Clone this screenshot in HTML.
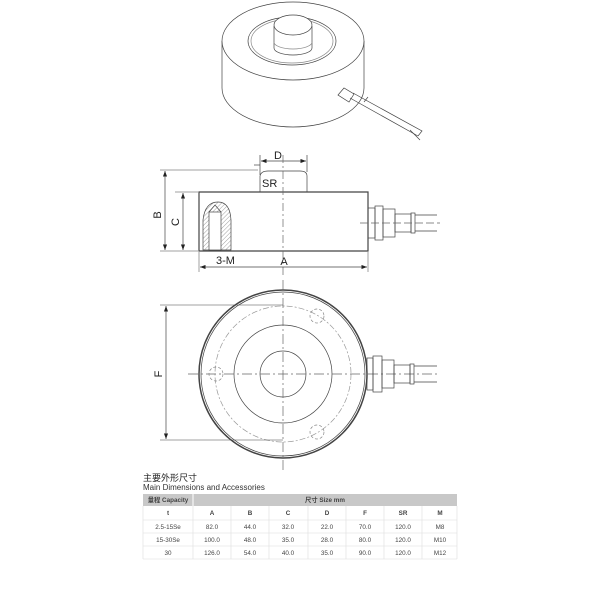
<!DOCTYPE html>
<html><head><meta charset="utf-8"><style>
body{margin:0;background:#fff;width:600px;height:600px;overflow:hidden}
svg{display:block}
</style></head><body>
<svg width="600" height="600" viewBox="0 0 600 600" xmlns="http://www.w3.org/2000/svg" font-family="Liberation Sans, Noto Sans CJK SC, sans-serif">
<defs>
<marker id="ar" markerWidth="8" markerHeight="6" refX="8" refY="3" orient="auto-start-reverse"><path d="M0,0 L8,3 L0,6z" fill="#222"/></marker>
<pattern id="hatch" width="3" height="3" patternUnits="userSpaceOnUse" patternTransform="rotate(45)"><line x1="0" y1="0" x2="0" y2="3" stroke="#777" stroke-width="0.7"/></pattern>
</defs>
<g fill="none" stroke="#444" stroke-width="0.7">
<!-- 3D view -->
<path d="M222,41 L222,88 A71,39 0 0 0 364,88 L364,41"/>
<ellipse cx="293" cy="41" rx="71" ry="39" fill="#fff"/>
<ellipse cx="292" cy="41" rx="44" ry="24"/>
<ellipse cx="292" cy="41" rx="41" ry="22" stroke="#888"/>
<path d="M274,26 L274,48 A19,7 0 0 0 312,48 L312,26"/>
<path d="M274,42 A19,7 0 0 0 312,42" stroke="#888"/>
<ellipse cx="293" cy="25" rx="19" ry="10" fill="#fff"/>
<path d="M338,95 L344,88 L354,94 L349,102 Z" fill="#fff"/>
<path d="M350,98 L418,136 M353,93 L422,131 L418,136"/>
<path d="M364,102 L368,97"/>
<path d="M410,130 L420,140"/>
<!-- side view -->
<line x1="254" y1="165" x2="260" y2="165"/>
<line x1="260" y1="155" x2="260" y2="175"/>
<line x1="307" y1="155" x2="307" y2="172"/>
<line x1="261" y1="161" x2="306" y2="161" marker-start="url(#ar)" marker-end="url(#ar)"/>
<path d="M260,192 L260,176 Q261,171 268,171 L300,171 Q307,171 307,176 L307,192"/>
<path d="M199,192 L368,192 L368,251 L245,251 L199,251 Z" stroke-width="1.2"/>
<path d="M203,250 L203,220 Q205,202 218,202 Q230,202 231,220 L231,250 Z" fill="url(#hatch)"/>
<rect x="209" y="212" width="12" height="38" fill="#fff"/>
<path d="M209,212 L215,205 L221,212"/>
<line x1="283" y1="155" x2="283" y2="275" stroke-dasharray="8,3,2,3" stroke="#666"/>
<line x1="160" y1="170" x2="258" y2="170" stroke-width="0.5"/>
<line x1="175" y1="192" x2="198" y2="192" stroke-width="0.5"/>
<line x1="160" y1="251" x2="198" y2="251" stroke-width="0.5"/>
<line x1="165" y1="171" x2="165" y2="250" marker-start="url(#ar)" marker-end="url(#ar)"/>
<line x1="183" y1="193" x2="183" y2="250" marker-start="url(#ar)" marker-end="url(#ar)"/>
<line x1="199" y1="252" x2="199" y2="272" stroke-width="0.5"/>
<line x1="368" y1="252" x2="368" y2="272" stroke-width="0.5"/>
<line x1="200" y1="267" x2="367" y2="267" marker-start="url(#ar)" marker-end="url(#ar)"/>
<rect x="368" y="208" width="7" height="30"/>
<rect x="375" y="206" width="8" height="34"/>
<rect x="383" y="209" width="12" height="28"/>
<rect x="395" y="214" width="16" height="18"/>
<rect x="411" y="213" width="4" height="20"/>
<path d="M415,215 L437,215 M415,231 L437,231"/>
<line x1="360" y1="223" x2="440" y2="223" stroke-dasharray="8,3" stroke="#666"/>
<!-- top view -->
<circle cx="283" cy="374" r="84" stroke-width="1.5"/>
<circle cx="283" cy="374" r="82"/>
<circle cx="283" cy="374" r="68" stroke="#999" stroke-dasharray="6,2,2,2"/>
<circle cx="283" cy="374" r="49"/>
<circle cx="283" cy="374" r="23"/>
<line x1="283" y1="280" x2="283" y2="470" stroke-dasharray="10,3,2,3" stroke="#666"/>
<line x1="188" y1="374" x2="440" y2="374" stroke-dasharray="10,3,2,3" stroke="#666"/>
<circle cx="317" cy="316" r="7" stroke-dasharray="3,2" stroke="#888"/>
<circle cx="216" cy="374" r="7" stroke-dasharray="3,2" stroke="#888"/>
<circle cx="317" cy="432" r="7" stroke-dasharray="3,2" stroke="#888"/>
<line x1="160" y1="305" x2="283" y2="305" stroke-width="0.5"/>
<line x1="160" y1="440" x2="283" y2="440" stroke-width="0.5"/>
<line x1="166" y1="306" x2="166" y2="439" marker-start="url(#ar)" marker-end="url(#ar)"/>
<rect x="367" y="358" width="6" height="32"/>
<rect x="373" y="356" width="9" height="36"/>
<rect x="382" y="360" width="12" height="28"/>
<rect x="394" y="365" width="16" height="18"/>
<rect x="410" y="364" width="4" height="20"/>
<path d="M414,366 L437,366 M414,382 L437,382"/>
</g>
<g font-size="11" fill="#222">
<text x="278" y="159" text-anchor="middle">D</text>
<text x="262" y="187">SR</text>
<text x="161" y="215" transform="rotate(-90 161 215)" text-anchor="middle">B</text>
<text x="179" y="222" transform="rotate(-90 179 222)" text-anchor="middle">C</text>
<text x="216" y="264">3-M</text>
<text x="284" y="265" text-anchor="middle">A</text>
<text x="162" y="374" transform="rotate(-90 162 374)" text-anchor="middle">F</text>
</g>
<!-- table -->
<text x="143" y="481" font-size="9" fill="#222">主要外形尺寸</text>
<text x="143" y="490" font-size="8" fill="#333">Main Dimensions and Accessories</text>
<g font-size="6.3" fill="#444" text-anchor="middle">
<rect x="143" y="494" width="314" height="12" fill="#c8c8c8"/>
<line x1="193" y1="494" x2="193" y2="559" stroke="#fff" stroke-width="1"/>
<text x="168" y="502" font-weight="bold">量程 Capacity</text>
<text x="325" y="502" font-weight="bold">尺寸 Size mm</text>
<g stroke="#ddd" stroke-width="0.6">
<line x1="143" y1="520" x2="457" y2="520"/><line x1="143" y1="533" x2="457" y2="533"/><line x1="143" y1="546" x2="457" y2="546"/><line x1="143" y1="559" x2="457" y2="559"/>
<line x1="143" y1="506" x2="143" y2="559"/><line x1="231" y1="506" x2="231" y2="559"/><line x1="269" y1="506" x2="269" y2="559"/><line x1="308" y1="506" x2="308" y2="559"/><line x1="346" y1="506" x2="346" y2="559"/><line x1="384" y1="506" x2="384" y2="559"/><line x1="422" y1="506" x2="422" y2="559"/><line x1="457" y1="506" x2="457" y2="559"/><line x1="193" y1="506" x2="193" y2="559"/>
</g>
<g font-weight="bold"><text x="168" y="515">t</text><text x="212" y="515">A</text><text x="250" y="515">B</text><text x="288" y="515">C</text><text x="327" y="515">D</text><text x="365" y="515">F</text><text x="403" y="515">SR</text><text x="440" y="515">M</text></g>
<text x="168" y="529">2.5-15Se</text><text x="212" y="529">82.0</text><text x="250" y="529">44.0</text><text x="288" y="529">32.0</text><text x="327" y="529">22.0</text><text x="365" y="529">70.0</text><text x="403" y="529">120.0</text><text x="440" y="529">M8</text>
<text x="168" y="542">15-30Se</text><text x="212" y="542">100.0</text><text x="250" y="542">48.0</text><text x="288" y="542">35.0</text><text x="327" y="542">28.0</text><text x="365" y="542">80.0</text><text x="403" y="542">120.0</text><text x="440" y="542">M10</text>
<text x="168" y="555">30</text><text x="212" y="555">126.0</text><text x="250" y="555">54.0</text><text x="288" y="555">40.0</text><text x="327" y="555">35.0</text><text x="365" y="555">90.0</text><text x="403" y="555">120.0</text><text x="440" y="555">M12</text>
</g>
</svg>
</body></html>
